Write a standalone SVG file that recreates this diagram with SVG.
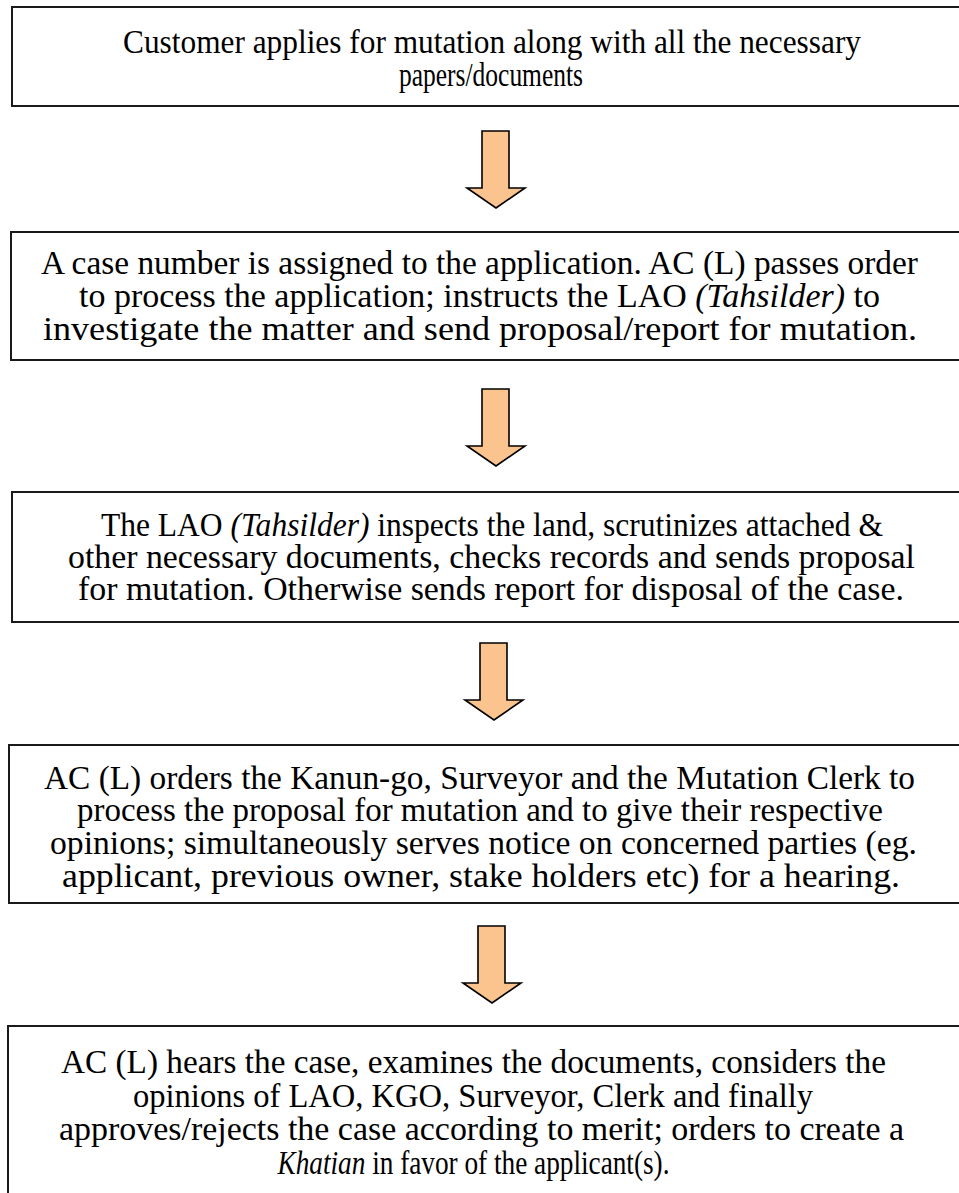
<svg xmlns="http://www.w3.org/2000/svg" width="959" height="1193" viewBox="0 0 959 1193">
<style>
.box{fill:#fff;stroke:#1a1a1a;stroke-width:2}
.t{font-family:"Liberation Serif","Times New Roman",serif;font-size:33px;fill:#000;text-anchor:middle}
.i{font-style:italic}
.arr{fill:#FBC48E;stroke:#000;stroke-width:1.6;stroke-linejoin:miter}
</style>
<defs>
<clipPath id="c4"><rect x="0" y="745" width="959" height="156"/></clipPath>
<path id="ar" d="M-14,0 H13 V57 H29 L0,77 L-29,57 H-14 Z"/>
</defs>
<rect width="959" height="1193" fill="#fff"/>
<g id="connectors">
<use href="#ar" class="arr" x="496" y="131"/>
<use href="#ar" class="arr" x="496" y="389"/>
<use href="#ar" class="arr" x="494" y="643"/>
<use href="#ar" class="arr" x="492" y="926"/>
</g>
<g id="n1">
<rect class="box" x="12" y="7" width="960" height="99"/>
<text class="t" x="492" y="53" textLength="738" lengthAdjust="spacingAndGlyphs">Customer applies for mutation along with all the necessary</text>
<text class="t" x="491" y="86" textLength="184" lengthAdjust="spacingAndGlyphs">papers/documents</text>
</g>
<g id="n2">
<rect class="box" x="11" y="232" width="960" height="128"/>
<text class="t" x="479.5" y="274" textLength="877" lengthAdjust="spacingAndGlyphs">A case number is assigned to the application. AC (L) passes order</text>
<text class="t" x="479.5" y="307" textLength="801" lengthAdjust="spacingAndGlyphs">to process the application; instructs the LAO <tspan class="i">(Tahsilder)</tspan> to</text>
<text class="t" x="480" y="340" textLength="874" lengthAdjust="spacingAndGlyphs">investigate the matter and send proposal/report for mutation.</text>
</g>
<g id="n3">
<rect class="box" x="12" y="492" width="960" height="130"/>
<text class="t" x="492" y="536" textLength="782" lengthAdjust="spacingAndGlyphs">The LAO <tspan class="i">(Tahsilder)</tspan> inspects the land, scrutinizes attached &amp;</text>
<text class="t" x="491.5" y="568" textLength="847" lengthAdjust="spacingAndGlyphs">other necessary documents, checks records and sends proposal</text>
<text class="t" x="491" y="600" textLength="826" lengthAdjust="spacingAndGlyphs">for mutation. Otherwise sends report for disposal of the case.</text>
</g>
<g id="n4">
<rect class="box" x="9" y="745" width="960" height="158"/>
<g clip-path="url(#c4)">
<text class="t" x="479.5" y="789" textLength="871" lengthAdjust="spacingAndGlyphs">AC (L) orders the Kanun-go, Surveyor and the Mutation Clerk to</text>
<text class="t" x="480" y="821" textLength="806" lengthAdjust="spacingAndGlyphs">process the proposal for mutation and to give their respective</text>
<text class="t" x="483.5" y="854" textLength="867" lengthAdjust="spacingAndGlyphs">opinions; simultaneously serves notice on concerned parties (eg.</text>
<text class="t" x="481" y="887" textLength="838" lengthAdjust="spacingAndGlyphs">applicant, previous owner, stake holders etc) for a hearing.</text>
</g>
</g>
<g id="n5">
<rect class="box" x="8" y="1026" width="960" height="180"/>
<text class="t" x="473.5" y="1073" textLength="825" lengthAdjust="spacingAndGlyphs">AC (L) hears the case, examines the documents, considers the</text>
<text class="t" x="473" y="1107" textLength="680" lengthAdjust="spacingAndGlyphs">opinions of LAO, KGO, Surveyor, Clerk and finally</text>
<text class="t" x="481.5" y="1140" textLength="845" lengthAdjust="spacingAndGlyphs">approves/rejects the case according to merit; orders to create a</text>
<text class="t" x="473.5" y="1174" textLength="392" lengthAdjust="spacingAndGlyphs"><tspan class="i">Khatian</tspan> in favor of the applicant(s).</text>
</g>
</svg>
